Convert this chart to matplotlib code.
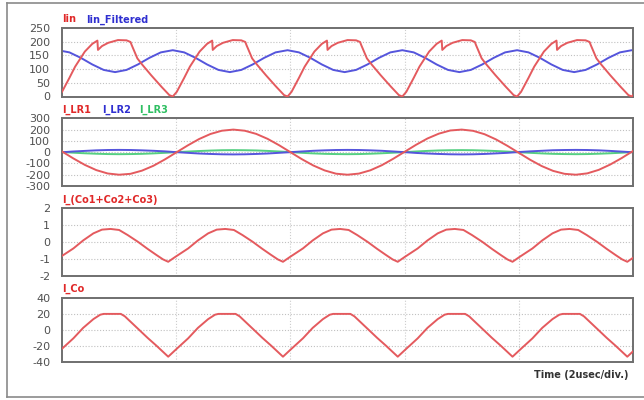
import matplotlib
matplotlib.use("Agg")
import matplotlib.pyplot as plt
from matplotlib.lines import Line2D

# ---------------- data ----------------
# Panel 1: Iin (time in usec)
iin_t = [-0.07, 0.00, 0.13, 0.23, 0.40, 0.53, 0.62, 0.63, 0.70, 0.81, 0.98, 1.13, 1.20, 1.22, 1.32, 1.41, 1.56, 1.74, 1.88,
         1.94, 2.01, 2.14, 2.24, 2.41, 2.54, 2.63, 2.64, 2.71, 2.82, 2.99, 3.14, 3.21, 3.23, 3.33, 3.42, 3.57, 3.75, 3.89,
         3.95, 4.02, 4.15, 4.25, 4.42, 4.55, 4.64, 4.65, 4.72, 4.83, 5.00, 5.15, 5.22, 5.24, 5.34, 5.43, 5.58, 5.76, 5.90,
         5.96, 6.03, 6.16, 6.26, 6.43, 6.56, 6.65, 6.66, 6.73, 6.84, 7.01, 7.16, 7.23, 7.25, 7.35, 7.44, 7.59, 7.77, 7.91,
         7.97, 8.04, 8.17, 8.27, 8.44, 8.57, 8.66, 8.67, 8.74, 8.85, 9.02, 9.17, 9.24, 9.26, 9.36, 9.45, 9.60, 9.78, 9.92,
         9.98, 10.05]
iin_v = [0, 17, 68, 109, 164, 192, 204, 170, 184, 196, 206, 205, 199, 188, 139, 115, 78, 36, 5,
         0, 17, 68, 109, 164, 192, 204, 170, 184, 196, 206, 205, 199, 188, 139, 115, 78, 36, 5,
         0, 17, 68, 109, 164, 192, 204, 170, 184, 196, 206, 205, 199, 188, 139, 115, 78, 36, 5,
         0, 17, 68, 109, 164, 192, 204, 170, 184, 196, 206, 205, 199, 188, 139, 115, 78, 36, 5,
         0, 17, 68, 109, 164, 192, 204, 170, 184, 196, 206, 205, 199, 188, 139, 115, 78, 36, 5,
         0, 17]

# Panel 1: Iin_Filtered
filt_t = [-0.07, 0.13, 0.33, 0.53, 0.73, 0.93, 1.13, 1.33, 1.53, 1.73,
          1.94, 2.14, 2.34, 2.54, 2.74, 2.94, 3.14, 3.34, 3.54, 3.74,
          3.95, 4.15, 4.35, 4.55, 4.75, 4.95, 5.15, 5.35, 5.55, 5.75,
          5.96, 6.16, 6.36, 6.56, 6.76, 6.96, 7.16, 7.36, 7.56, 7.76,
          7.97, 8.17, 8.37, 8.57, 8.77, 8.97, 9.17, 9.37, 9.57, 9.77,
          9.98, 10.18]
filt_v = [169, 161, 141, 117, 97, 89, 97, 117, 141, 161,
          169, 161, 141, 117, 97, 89, 97, 117, 141, 161,
          169, 161, 141, 117, 97, 89, 97, 117, 141, 161,
          169, 161, 141, 117, 97, 89, 97, 117, 141, 161,
          169, 161, 141, 117, 97, 89, 97, 117, 141, 161,
          169, 161]

# Panel 2: resonant inductor currents, sampled every 0.2 usec from 0 to 10
lr_t = [0.0, 0.2, 0.4, 0.6, 0.8, 1.0, 1.2, 1.4, 1.6, 1.8, 2.0, 2.2, 2.4, 2.6, 2.8, 3.0, 3.2, 3.4, 3.6, 3.8,
        4.0, 4.2, 4.4, 4.6, 4.8, 5.0, 5.2, 5.4, 5.6, 5.8, 6.0, 6.2, 6.4, 6.6, 6.8, 7.0, 7.2, 7.4, 7.6, 7.8,
        8.0, 8.2, 8.4, 8.6, 8.8, 9.0, 9.2, 9.4, 9.6, 9.8, 10.0]
lr1_v = [6, -56, -113, -159, -189, -200, -192, -164, -121, -65, -3, 59, 116, 161, 190, 200, 190, 162, 118, 62,
         0, -62, -118, -162, -191, -200, -190, -161, -116, -59, 3, 65, 121, 164, 192, 200, 189, 159, 113, 56,
         -6, -68, -123, -166, -192, -200, -188, -157, -110, -53, 10]
lr2_v = [-1, 6, 11, 16, 19, 20, 19, 16, 12, 7, 0, -6, -12, -16, -19, -20, -19, -16, -12, -6,
         0, 6, 12, 16, 19, 20, 19, 16, 12, 6, 0, -7, -12, -16, -19, -20, -19, -16, -11, -6,
         1, 7, 12, 17, 19, 20, 19, 16, 11, 5, -1]
lr3_v = [1, -5, -10, -14, -17, -18, -17, -15, -11, -6, 0, 5, 10, 14, 17, 18, 17, 15, 11, 6,
         0, -6, -11, -15, -17, -18, -17, -14, -10, -5, 0, 6, 11, 15, 17, 18, 17, 14, 10, 5,
         -1, -6, -11, -15, -17, -18, -17, -14, -10, -5, 1]

# Panel 3: I_(Co1+Co2+Co3)
co3_t = [-0.15, -0.03, 0.20, 0.37, 0.55, 0.70, 0.85, 1.00, 1.15, 1.33, 1.50, 1.65, 1.77,
         1.86, 1.98, 2.21, 2.38, 2.56, 2.71, 2.86, 3.01, 3.16, 3.34, 3.51, 3.66, 3.78,
         3.87, 3.99, 4.22, 4.39, 4.57, 4.72, 4.87, 5.02, 5.17, 5.35, 5.52, 5.67, 5.79,
         5.88, 6.00, 6.23, 6.40, 6.58, 6.73, 6.88, 7.03, 7.18, 7.36, 7.53, 7.68, 7.80,
         7.89, 8.01, 8.24, 8.41, 8.59, 8.74, 8.89, 9.04, 9.19, 9.37, 9.54, 9.69, 9.81,
         9.90, 10.02]
co3_v = [-1.16, -0.88, -0.37, 0.10, 0.52, 0.74, 0.78, 0.72, 0.42, 0.02, -0.40, -0.75, -1.02,
         -1.16, -0.88, -0.37, 0.10, 0.52, 0.74, 0.78, 0.72, 0.42, 0.02, -0.40, -0.75, -1.02,
         -1.16, -0.88, -0.37, 0.10, 0.52, 0.74, 0.78, 0.72, 0.42, 0.02, -0.40, -0.75, -1.02,
         -1.16, -0.88, -0.37, 0.10, 0.52, 0.74, 0.78, 0.72, 0.42, 0.02, -0.40, -0.75, -1.02,
         -1.16, -0.88, -0.37, 0.10, 0.52, 0.74, 0.78, 0.72, 0.42, 0.02, -0.40, -0.75, -1.02,
         -1.16, -0.88]

# Panel 4: I_Co
co_t = [-0.15, -0.03, 0.20, 0.37, 0.55, 0.67, 0.73, 1.03, 1.10, 1.33, 1.50, 1.65, 1.77,
        1.86, 1.98, 2.21, 2.38, 2.56, 2.68, 2.74, 3.04, 3.11, 3.34, 3.51, 3.66, 3.78,
        3.87, 3.99, 4.22, 4.39, 4.57, 4.69, 4.75, 5.05, 5.12, 5.35, 5.52, 5.67, 5.79,
        5.88, 6.00, 6.23, 6.40, 6.58, 6.70, 6.76, 7.06, 7.13, 7.36, 7.53, 7.68, 7.80,
        7.89, 8.01, 8.24, 8.41, 8.59, 8.71, 8.77, 9.07, 9.14, 9.37, 9.54, 9.69, 9.81,
        9.90, 10.02]
co_v = [-33, -25, -10, 3, 14, 19.5, 20.5, 20.5, 17.5, 2, -9.5, -19, -27,
        -33, -25, -10, 3, 14, 19.5, 20.5, 20.5, 17.5, 2, -9.5, -19, -27,
        -33, -25, -10, 3, 14, 19.5, 20.5, 20.5, 17.5, 2, -9.5, -19, -27,
        -33, -25, -10, 3, 14, 19.5, 20.5, 20.5, 17.5, 2, -9.5, -19, -27,
        -33, -25, -10, 3, 14, 19.5, 20.5, 20.5, 17.5, 2, -9.5, -19, -27,
        -33, -25]

p1_ticks = [0, 50, 100, 150, 200, 250]
p2_ticks = [-300, -200, -100, 0, 100, 200, 300]
p3_ticks = [-2, -1, 0, 1, 2]
p4_ticks = [-40, -20, 0, 20, 40]
div_ticks = [2, 4, 6, 8]

titles = [
    [("Iin", "#e02828"), ("Iin_Filtered", "#2f2fd0")],
    [("I_LR1", "#e02828"), ("I_LR2", "#2f2fd0"), ("I_LR3", "#2fbf62")],
    [("I_(Co1+Co2+Co3)", "#e02828")],
    [("I_Co", "#e02828")],
]
x_label = "Time (2usec/div.)"

# ---------------- drawing ----------------
W, H = 644, 400
fig = plt.figure(figsize=(W / 100, H / 100), dpi=100)
fig.patch.set_facecolor("white")

RED = "#e45a5e"
BLUE = "#5555dc"
GREEN = "#55cf82"

# outer frame (right edge lies outside the picture)
fc = "#8a8a8a"
fig.add_artist(Line2D([7 / W, 1.0], [1 - 3 / H, 1 - 3 / H], color=fc, lw=1.2, transform=fig.transFigure))
fig.add_artist(Line2D([7 / W, 1.0], [1 - 396.5 / H, 1 - 396.5 / H], color=fc, lw=1.2, transform=fig.transFigure))
fig.add_artist(Line2D([7 / W, 7 / W], [1 - 3 / H, 1 - 396.5 / H], color=fc, lw=1.2, transform=fig.transFigure))

left_px, right_px = 62, 633
panels_px = [(28, 96.5), (118.3, 186), (208.3, 276), (298.3, 362.3)]
yticks = [p1_ticks, p2_ticks, p3_ticks, p4_ticks]
title_y = [19.5, 110, 200, 288.5]
title_x = [[62, 86], [62, 101.7, 139.3], [62], [62]]

axes = []
for i, (top, bot) in enumerate(panels_px):
    ax = fig.add_axes([left_px / W, 1 - bot / H, (right_px - left_px) / W, (bot - top) / H])
    ax.set_xlim(0, 10)
    tk = yticks[i]
    ax.set_ylim(tk[0], tk[-1])
    ax.set_yticks(tk)
    ax.set_yticklabels([str(v) for v in tk])
    ax.set_xticks(div_ticks)
    ax.tick_params(axis="x", length=0, labelbottom=False)
    ax.tick_params(axis="y", length=0, pad=8.5, labelsize=8, labelcolor="#505050")
    for s in ax.spines.values():
        s.set_color("#6f6f6f")
        s.set_linewidth(1.4)
    for v in tk[1:-1]:
        ax.axhline(v, color="#c0c0c0", lw=0.8, ls=(0, (1, 1.6)), zorder=0)
    for v in div_ticks:
        ax.axvline(v, color="#cccccc", lw=0.8, ls=(0, (1, 1.6)), zorder=0)
    axes.append(ax)
    for (txt, col), xp in zip(titles[i], title_x[i]):
        fig.text(xp / W, 1 - title_y[i] / H, txt, color=col, fontsize=7, fontweight="bold",
                 ha="left", va="center")

axes[0].plot(iin_t, iin_v, color=RED, lw=1.4, zorder=3)
axes[0].plot(filt_t, filt_v, color=BLUE, lw=1.4, zorder=2)

axes[1].plot(lr_t, lr3_v, color=GREEN, lw=1.4, zorder=2)
axes[1].plot(lr_t, lr2_v, color=BLUE, lw=1.4, zorder=2)
axes[1].plot(lr_t, lr1_v, color=RED, lw=1.4, zorder=3)

axes[2].plot(co3_t, co3_v, color=RED, lw=1.4, zorder=3)
axes[3].plot(co_t, co_v, color=RED, lw=1.4, zorder=3)

fig.text(629 / W, 1 - 374.5 / H, x_label, color="#333333", fontsize=7, fontweight="bold",
         ha="right", va="center")

fig.savefig("out.png", dpi=100, facecolor="white")
